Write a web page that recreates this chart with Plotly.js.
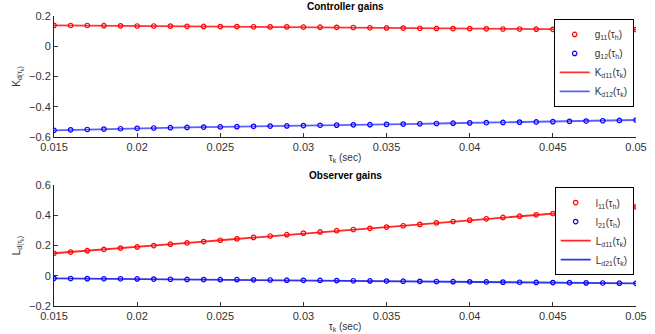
<!DOCTYPE html>
<html><head><meta charset="utf-8">
<script src="https://cdn.plot.ly/plotly-3.0.1.min.js"></script>
<style>html,body{margin:0;padding:0;background:#fff}#chart{width:655px;height:334px}</style>
</head><body><div id="chart"></div>
<script>
const tau = [0.015,0.016,0.017,0.018,0.019,0.020,0.021,0.022,0.023,0.024,0.025,0.026,0.027,0.028,0.029,0.030,0.031,0.032,0.033,0.034,0.035,0.036,0.037,0.038,0.039,0.040,0.041,0.042,0.043,0.044,0.045,0.046,0.047,0.048,0.049,0.050];
const g11 = [0.138,0.137,0.137,0.136,0.135,0.134,0.134,0.133,0.132,0.131,0.130,0.130,0.129,0.128,0.128,0.127,0.126,0.125,0.124,0.122,0.121,0.120,0.119,0.118,0.117,0.116,0.115,0.114,0.114,0.113,0.112,0.112,0.111,0.111,0.110,0.110];
const g12 = [-0.556,-0.553,-0.551,-0.548,-0.546,-0.543,-0.541,-0.539,-0.537,-0.535,-0.534,-0.532,-0.530,-0.528,-0.527,-0.525,-0.523,-0.522,-0.520,-0.519,-0.517,-0.515,-0.513,-0.511,-0.509,-0.507,-0.506,-0.504,-0.502,-0.501,-0.499,-0.497,-0.495,-0.493,-0.491,-0.488];
const l11 = [0.149,0.157,0.166,0.174,0.183,0.191,0.200,0.209,0.217,0.226,0.235,0.244,0.254,0.263,0.272,0.282,0.290,0.298,0.306,0.314,0.322,0.331,0.340,0.350,0.359,0.368,0.377,0.386,0.394,0.403,0.412,0.421,0.430,0.438,0.447,0.456];
const l21 = [-0.017,-0.018,-0.019,-0.020,-0.020,-0.021,-0.022,-0.023,-0.024,-0.025,-0.026,-0.026,-0.027,-0.028,-0.029,-0.030,-0.031,-0.032,-0.033,-0.034,-0.035,-0.036,-0.037,-0.038,-0.039,-0.040,-0.041,-0.042,-0.043,-0.044,-0.045,-0.046,-0.047,-0.048,-0.049,-0.050];
const xTicks = [0.015,0.02,0.025,0.03,0.035,0.04,0.045,0.05];
const xTickText = ['0.015','0.02','0.025','0.03','0.035','0.04','0.045','0.05'];
const yTicksTop = [-0.6,-0.4,-0.2,0,0.2];
const yTickTextTop = ['\u22120.6','\u22120.4','\u22120.2','0','0.2'];
const yTicksBot = [-0.2,0,0.2,0.4,0.6];
const yTickTextBot = ['\u22120.2','0','0.2','0.4','0.6'];

const RED='#ff0000', BLUE='#0000ff';
function mk(x,y,name,color,xa,ya,leg){return {x:x,y:y,name:name,type:'scatter',mode:'markers',xaxis:xa,yaxis:ya,legend:leg,
  marker:{symbol:'circle-open',size:4.5,color:color,line:{width:1.2,color:color}}};}
function ln(x,y,name,color,xa,ya,leg){return {x:x,y:y,name:name,type:'scatter',mode:'lines',xaxis:xa,yaxis:ya,legend:leg,
  line:{width:1.8,color:color}};}

const data = [
  ln(tau,g11,'K<sub>d11</sub>(τ<sub>k</sub>)','rgba(255,0,0,0.8)','x','y','legend'),
  ln(tau,g12,'K<sub>d12</sub>(τ<sub>k</sub>)','rgba(40,40,255,0.75)','x','y','legend'),
  mk(tau,g11,'g<sub>11</sub>(τ<sub>h</sub>)',RED,'x','y','legend'),
  mk(tau,g12,'g<sub>12</sub>(τ<sub>h</sub>)',BLUE,'x','y','legend'),
  ln(tau,l11,'L<sub>d11</sub>(τ<sub>k</sub>)','rgba(255,0,0,0.85)','x2','y2','legend2'),
  ln(tau,l21,'L<sub>d21</sub>(τ<sub>k</sub>)','rgba(0,0,220,0.8)','x2','y2','legend2'),
  mk(tau,l11,'l<sub>11</sub>(τ<sub>h</sub>)',RED,'x2','y2','legend2'),
  mk(tau,l21,'l<sub>21</sub>(τ<sub>h</sub>)',BLUE,'x2','y2','legend2')
];
data[2].legendrank=1; data[3].legendrank=2; data[0].legendrank=3; data[1].legendrank=4;
data[6].legendrank=1; data[7].legendrank=2; data[4].legendrank=3; data[5].legendrank=4;

const FONT='Liberation Sans, Arial, sans-serif';
const tickFont = {family:FONT, size:11, color:'#333'};
const xaxisBase = {range:[0.015,0.05], tickvals:xTicks, ticktext:xTickText, ticks:'inside', ticklen:4, tickcolor:'#333',
  showline:true, linecolor:'#222', linewidth:1, showgrid:false, zeroline:false, mirror:false, tickfont:tickFont,
  title:{text:'τ<sub>k</sub> (sec)', font:{family:FONT, size:10, color:'#333'}, standoff:1}};
const yaxisBase = {ticks:'inside', ticklen:4, tickcolor:'#333', showline:true, linecolor:'#222', linewidth:1,
  showgrid:false, zeroline:false, mirror:false, tickfont:tickFont};

const legBase = {bgcolor:'#fff', bordercolor:'#000', borderwidth:1, xanchor:'right', yanchor:'top', x:0.996,
  font:{family:FONT, size:10, color:'#333'}, itemwidth:30, tracegroupgap:0, traceorder:'normal'};

const layout = {
  width:655, height:334, paper_bgcolor:'#fff', plot_bgcolor:'#fff',
  margin:{l:54, r:19, t:16, b:28},
  showlegend:true,
  xaxis:Object.assign({}, xaxisBase, {anchor:'y'}),
  xaxis2:Object.assign({}, xaxisBase, {anchor:'y2'}),
  yaxis:Object.assign({}, yaxisBase, {domain:[0.583,1], range:[-0.6,0.2], tickvals:yTicksTop, ticktext:yTickTextTop, anchor:'x',
    title:{text:'K<sub>d(τ<sub>k</sub>)</sub>', font:{family:FONT, size:10, color:'#333'}, standoff:6}}),
  yaxis2:Object.assign({}, yaxisBase, {domain:[0,0.417], range:[-0.2,0.6], tickvals:yTicksBot, ticktext:yTickTextBot, anchor:'x2',
    title:{text:'L<sub>d(τ<sub>k</sub>)</sub>', font:{family:FONT, size:10, color:'#333'}, standoff:6}}),
  legend:Object.assign({}, legBase, {y:0.99}),
  legend2:Object.assign({}, legBase, {y:0.41}),
  annotations:[
    {text:'<b>Controller gains</b>', xref:'paper', yref:'paper', x:0.5, y:1, yshift:10, yanchor:'middle', showarrow:false,
     font:{family:FONT, size:10, color:'#000'}},
    {text:'<b>Observer gains</b>', xref:'paper', yref:'paper', x:0.5, y:0.417, yshift:10, yanchor:'middle', showarrow:false,
     font:{family:FONT, size:10, color:'#000'}}
  ]
};
Plotly.newPlot('chart', data, layout, {staticPlot:true, displayModeBar:false});
</script></body></html>
